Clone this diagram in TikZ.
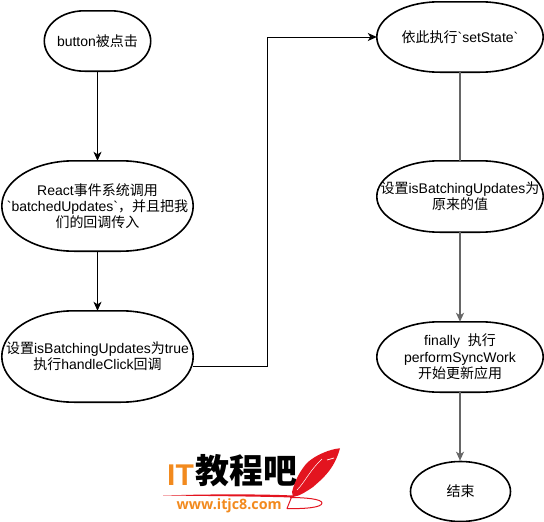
\documentclass[tikz,border=0pt]{standalone}
\usepackage{fontspec}
\usetikzlibrary{arrows.meta,shapes.geometric}
\newfontfamily\lat{Liberation Sans}
\newfontfamily\zh{Noto Sans CJK SC}
\newfontfamily\url{Open Sans}
\definecolor{logored}{HTML}{E3141F}
\definecolor{logoorange}{HTML}{F28A1E}
\definecolor{rightline}{HTML}{666666}
\newcommand\blobfont{\lat\fontsize{14}{16.3}\selectfont\lineskiplimit -8pt\relax}
\tikzset{
  x=1pt,y=-1pt,
  blobbox/.style={rectangle,inner sep=0pt,align=center,font=\blobfont},
  outline/.style={draw=black,line width=1.6pt},
  tip/.style={-{Stealth[length=9pt,width=8pt,inset=2.5pt]}},
  leftflow/.style={draw=black,line width=1pt,tip},
  rightflow/.style={draw=rightline,line width=1.8pt},
  rightarrow/.style={rightflow,tip},
}
% name, cx, cy, w, h, text
\newcommand\blob[6]{%
  \node[blobbox,minimum width=#4pt,minimum height=#5pt] (#1) at (#2,#3) {#6};
  \pgfmathsetmacro\ka{0.38*#4}%
  \pgfmathsetmacro\kb{0.16*#4}%
  \pgfmathsetmacro\kc{0.27*#5}%
  \draw[outline]
    (#1.west) .. controls ([yshift=\kc pt]#1.west) and ([xshift=\kb pt]#1.north west) .. ([xshift=\ka pt]#1.north west)
    -- ([xshift=-\ka pt]#1.north east)
    .. controls ([xshift=-\kb pt]#1.north east) and ([yshift=\kc pt]#1.east) .. (#1.east)
    .. controls ([yshift=-\kc pt]#1.east) and ([xshift=-\kb pt]#1.south east) .. ([xshift=-\ka pt]#1.south east)
    -- ([xshift=\ka pt]#1.south west)
    .. controls ([xshift=\kb pt]#1.south west) and ([yshift=-\kc pt]#1.west) .. cycle;
}
\begin{document}
\begin{tikzpicture}
\useasboundingbox (0,0) rectangle (544,522);
\blob{btn}{97.5}{41}{106}{60}{button{\zh 被点击}}
\blob{react}{97.5}{206}{191}{90}{\raisebox{0pt}[\height][0pt]{React{\zh 事件系统调用}}\\`batchedUpdates`{\zh ，并且把我}\\{\zh 们的回调传入}}
\blob{flag}{97.5}{356.5}{191}{91}{{\zh 设置}isBatchingUpdates{\zh 为}true\\{\zh 执行}handleClick{\zh 回调}}
\blob{run}{460}{37}{166}{70}{{\zh 依此执行}`setState`}
\blob{reset}{460}{196.5}{166}{71}{{\zh 设置}isBatchingUpdates{\zh 为}\\{\zh 原来的值}}
\blob{final}{460}{357}{166}{70}{finally\ \ {\zh 执行}\\performSyncWork\\{\zh 开始更新应用}}
\node[draw=black,line width=1.6pt,ellipse,inner sep=0pt,minimum width=100pt,minimum height=60pt,font=\zh\fontsize{14}{16}\selectfont] (end) at (460.5,491.5) {结束};
\draw[leftflow] (btn.south) -- (react.north);
\draw[leftflow] (react.south) -- (flag.north);
\draw[leftflow] ([yshift=-9.5pt]flag.east) -- (267.5,366) -- (267.5,37) -- (run.west);
\draw[rightflow] (run.south) -- (reset.north);
\draw[rightarrow] (reset.south) -- (final.north);
\draw[rightarrow] (final.south) -- (final.south |- end.north);
% logo
\node[anchor=west,inner sep=0pt,text=logoorange,font=\lat\bfseries\fontsize{30}{30}\selectfont] (logoit) at (167,475) {IT};
\node[anchor=west,inner sep=0pt,text=black,font=\zh\bfseries\fontsize{34}{34}\selectfont] (logocn) at (195,471) {教程吧};
\node[anchor=west,inner sep=0pt,text=logoorange,font=\url\bfseries\fontsize{14.3}{16}\selectfont] (logourl) at (176.5,505.5) {www.itjc8.com};
% swoosh and ring
\fill[logored] (163,495.5) .. controls (210,494) and (260,494) .. (293,495.5) -- (293,497.5)
  .. controls (260,496.5) and (210,496) .. (163,495.5) -- cycle;
\draw[logored,line width=1pt,line join=round] (290,497.5) .. controls (305,497.5) and (322,499) .. (322,503)
  .. controls (322,507.5) and (305,509) .. (287,508.5) -- (292,496);
% feather
\fill[logored] (340,448.3) .. controls (330,449) and (316,455) .. (308,462)
  .. controls (301,469) and (295,480) .. (292,492) -- (293,497)
  .. controls (300,496) and (307,491) .. (313,487)
  .. controls (322,479) and (334,470) .. (340,448.3) -- cycle;
\draw[white,line width=0.5pt] (297,490) .. controls (305,482) and (310,470) .. (322,459);
\draw[white,line width=0.7pt] (327,460) -- (334,458);
\end{tikzpicture}
\end{document}
